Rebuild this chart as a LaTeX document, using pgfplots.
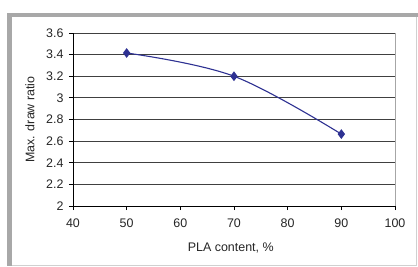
\documentclass[border=0pt]{standalone}
\usepackage{fontspec}
\setmainfont{Liberation Sans}
\usepackage{pgfplots}
\pgfplotsset{compat=1.18}
\definecolor{frame}{HTML}{A8A8A8}
\definecolor{framelt}{HTML}{D0D0D0}
\definecolor{series}{HTML}{2E3192}
\begin{document}
\begin{tikzpicture}[x=1bp,y=1bp]
\useasboundingbox (0,0) rectangle (418,267);
\fill[white] (0,0) rectangle (418,267);
\fill[frame] (7,1) rectangle (12,254);
\fill[frame] (7,250) rectangle (418,254);
\draw[framelt, line width=1bp] (12,1.5) -- (416.5,1.5) -- (416.5,250);
\begin{axis}[
  at={(73bp,61bp)}, anchor=south west,
  scale only axis,
  width=322bp, height=173bp,
  xmin=40, xmax=100, ymin=2, ymax=3.6,
  xtick={40,50,60,70,80,90,100},
  ytick={2,2.2,2.4,2.6,2.8,3,3.2,3.4,3.6},
  axis x line*=bottom, axis y line*=left,
  axis line style={black, line width=0.8bp},
  tick align=outside,
  major tick length=4bp,
  tick style={black, line width=0.8bp},
  ymajorgrids,
  grid style={black!75, line width=0.8bp},
  /pgf/number format/assume math mode=true,
  /pgf/number format/fixed,
  every tick label/.append style={font=\fontsize{12.5}{14}\selectfont, text=black!85},
  xticklabel style={yshift=-5bp},
  yticklabel style={xshift=-2bp},
  xlabel={PLA content, \%},
  ylabel={Max. draw ratio},
  label style={font=\fontsize{12.5}{14}\selectfont, text=black!85},
  xlabel style={at={(axis description cs:0.49,-0.24)}, anchor=center},
  ylabel style={at={(axis description cs:-0.134,0.5)}, anchor=center},
  clip=false,
]
\addplot[series, line width=1.1bp, smooth, tension=0.6, mark=diamond*, mark size=4bp, mark options={fill=series, draw=series}]
  coordinates {(50,3.415) (70,3.20) (90,2.665)};
\draw[black!35, line width=0.8bp] (rel axis cs:1,0) -- (rel axis cs:1,1);
\end{axis}
\end{tikzpicture}
\end{document}
